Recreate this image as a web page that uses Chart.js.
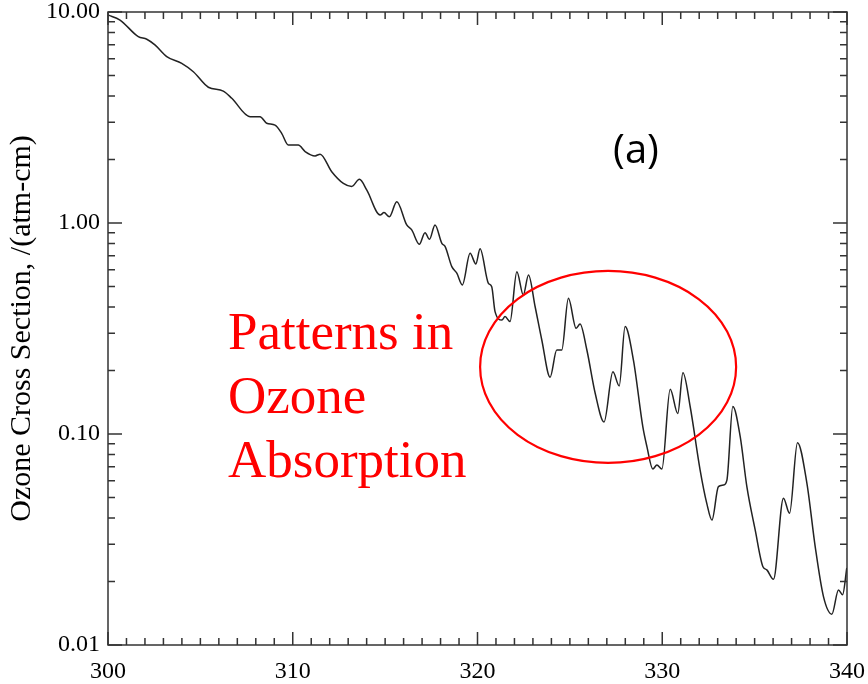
<!DOCTYPE html>
<html>
<head>
<meta charset="utf-8">
<script src="https://cdn.jsdelivr.net/npm/chart.js@4.4.1/dist/chart.umd.min.js"></script>
<style>
  html, body { margin: 0; padding: 0; background: #fff; }
</style>
</head>
<body>
<canvas id="ozoneChart" width="868" height="684"></canvas>
<script>
// wavelength in nm
const wavelength = [
  300.0, 300.65, 301.64, 302.10, 302.54, 303.18, 303.99, 304.62, 305.43, 306.24,
  306.70, 307.69, 308.23, 308.59, 309.04, 309.40, 309.76, 310.30, 310.67, 311.21,
  311.48, 312.11, 312.74, 313.19, 313.61, 314.01, 314.73, 314.94, 315.23, 315.63,
  316.17, 316.44, 316.85, 317.16, 317.40, 317.70, 318.07, 318.25, 318.61, 318.88,
  319.18, 319.60, 319.91, 320.14, 320.59, 320.77, 320.95, 321.32, 321.49, 321.76,
  322.13, 322.48, 322.76, 323.12, 323.48, 323.93, 324.29, 324.56, 324.92, 325.34,
  325.55, 325.92, 326.37, 326.85, 327.33, 327.67, 327.99, 328.44, 328.95, 329.17,
  329.49, 329.71, 329.98, 330.43, 330.84, 331.12, 331.51, 332.05, 332.41, 332.69,
  333.04, 333.31, 333.50, 333.82, 334.22, 334.58, 335.03, 335.45, 335.66, 336.02,
  336.56, 336.89, 337.32, 337.83, 338.28, 338.73, 339.18, 339.54, 339.76, 339.99
];

// ozone cross section, /(atm-cm)
const crossSection = [
  9.68, 9.16, 7.64, 7.43, 6.98, 6.14, 5.71, 5.21, 4.40, 4.22,
  3.90, 3.19, 3.19, 2.97, 2.91, 2.66, 2.34, 2.34, 2.18, 2.08,
  2.12, 1.75, 1.54, 1.49, 1.61, 1.43, 1.09, 1.12, 1.07, 1.26,
  0.979, 0.927, 0.793, 0.900, 0.837, 0.979, 0.801, 0.773, 0.621, 0.578,
  0.509, 0.718, 0.640, 0.755, 0.518, 0.499, 0.380, 0.347, 0.360, 0.341,
  0.588, 0.456, 0.567, 0.401, 0.279, 0.186, 0.250, 0.250, 0.440, 0.317,
  0.332, 0.250, 0.156, 0.114, 0.197, 0.169, 0.323, 0.224, 0.108, 0.0871,
  0.0682, 0.0713, 0.0682, 0.163, 0.125, 0.195, 0.135, 0.0675, 0.0469, 0.0391,
  0.0563, 0.0573, 0.0605, 0.135, 0.0971, 0.0563, 0.0351, 0.0235, 0.0227, 0.0205,
  0.0496, 0.0421, 0.0910, 0.0584, 0.0292, 0.0169, 0.0140, 0.0182, 0.0173, 0.0232
];

const xTickLabels = [300, 310, 320, 330, 340];
const yTickLabels = [0.01, 0.1, 1, 10];
const noteLines = ['Patterns in', 'Ozone', 'Absorption'];
const panelLabel = '(a)';

const serif = '"Liberation Serif", "Times New Roman", serif';

//ticks pointing inward + frame + the red notes
const extrasPlugin = {
  id: 'extras',
  afterDraw(chart) {
    const { ctx, chartArea: a, scales: { x, y } } = chart;
    ctx.save();
    ctx.strokeStyle = '#333';
    ctx.lineWidth = 1.5;
    ctx.strokeRect(a.left, a.top, a.right - a.left, a.bottom - a.top);

    ctx.beginPath();
    for (let v = xTickLabels[0]; v <= xTickLabels[xTickLabels.length - 1]; v++) {
      const px = x.getPixelForValue(v);
      const len = v % 10 === 0 ? 13 : 7;
      ctx.moveTo(px, a.bottom); ctx.lineTo(px, a.bottom - len);
      ctx.moveTo(px, a.top); ctx.lineTo(px, a.top + len);
    }
    for (let e = -2; e <= 1; e++) {
      for (let d = 1; d <= 9; d++) {
        const v = d * Math.pow(10, e);
        if (v > 10.0001) break;
        const py = y.getPixelForValue(v);
        const len = d === 1 ? 14 : 7;
        ctx.moveTo(a.left, py); ctx.lineTo(a.left + len, py);
        ctx.moveTo(a.right, py); ctx.lineTo(a.right - len, py);
      }
    }
    ctx.stroke();

    // red ellipse round the banded part
    ctx.strokeStyle = '#ff0000';
    ctx.lineWidth = 2.2;
    ctx.beginPath();
    ctx.ellipse(x.getPixelForValue(327.07), y.getPixelForValue(0.208), 128, 96, 0, 0, Math.PI * 2);
    ctx.stroke();

    ctx.fillStyle = '#ff0000';
    ctx.font = '53px ' + serif;
    ctx.textAlign = 'left';
    ctx.textBaseline = 'alphabetic';
    noteLines.forEach((t, i) => ctx.fillText(t, 228, 349 + i * 64));

    ctx.fillStyle = '#000';
    ctx.font = '40px "Open Sans", sans-serif';
    ctx.textAlign = 'center';
    ctx.textBaseline = 'middle';
    ctx.fillText(panelLabel, 636, 152);
    ctx.restore();
  }
};

const ctx = document.getElementById('ozoneChart').getContext('2d');

new Chart(ctx, {
  type: 'line',
  data: {
    datasets: [{
      data: wavelength.map((w, i) => ({ x: w, y: crossSection[i] })),
      borderColor: '#222',
      borderWidth: 1.5,
      pointRadius: 0,
      fill: false,
      cubicInterpolationMode: 'monotone'
    }]
  },
  options: {
    responsive: false,
    animation: false,
    layout: { padding: { top: 12, right: 21, left: 0, bottom: 0 } },
    plugins: {
      legend: { display: false },
      tooltip: { enabled: false }
    },
    scales: {
      x: {
        type: 'linear',
        min: 300,
        max: 340,
        grid: { display: false, drawTicks: false },
        border: { display: false },
        ticks: {
          stepSize: 1,
          autoSkip: false,
          maxRotation: 0,
          padding: 12,
          color: '#000',
          font: { family: serif, size: 24 },
          callback: (v) => xTickLabels.includes(v) ? String(v) : ''
        },
        afterFit: (s) => { s.height = 39; s.paddingLeft = 0; s.paddingRight = 0; }
      },
      y: {
        type: 'logarithmic',
        min: 0.01,
        max: 10,
        grid: { display: false, drawTicks: false },
        border: { display: false },
        title: {
          display: true,
          text: 'Ozone Cross Section, /(atm-cm)',
          color: '#000',
          font: { family: serif, size: 30 },
          padding: { top: 4, bottom: 0 }
        },
        ticks: {
          autoSkip: false,
          padding: 8,
          color: '#000',
          font: { family: serif, size: 24, lineHeight: 1 },
          callback: (v) => {
            const hit = yTickLabels.find(t => Math.abs(t - v) < t * 1e-6);
            return hit !== undefined ? hit.toFixed(2) : '';
          }
        },
        afterFit: (s) => { s.width = 108; s.paddingTop = 0; s.paddingBottom = 0; }
      }
    }
  },
  plugins: [extrasPlugin]
});
</script>
</body>
</html>
